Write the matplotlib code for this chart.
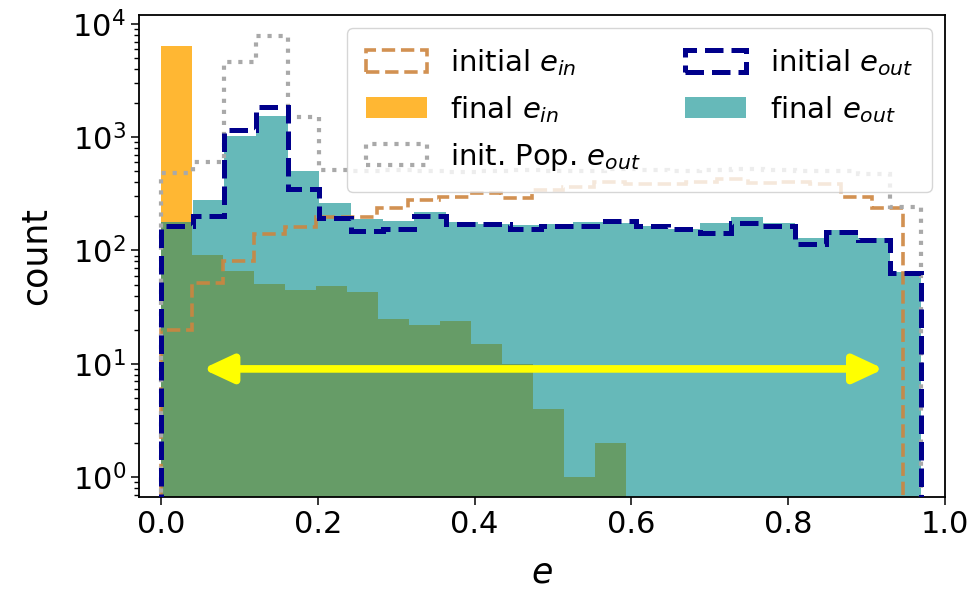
import numpy as np
import matplotlib
matplotlib.use("Agg")
import matplotlib.pyplot as plt
from matplotlib.patches import Patch

# bin ranges (each histogram has its own binning)
edges_24_out = np.linspace(0.0, 0.970, 25)    # e_out histograms
edges_24_in = np.linspace(0.0, 0.946, 25)     # initial e_in
edges_15_in = np.linspace(0.0, 0.593, 16)     # final e_in

initial_ein = [20, 52, 80, 141, 162, 196, 198, 235, 278, 294, 323, 288,
               340, 360, 400, 385, 390, 405, 430, 395, 400, 390, 298, 235]
final_ein = [6400, 91, 66, 51, 45, 49, 43, 25, 22, 24, 15, 10, 4, 1, 2]
init_pop_eout = [482, 599, 4630, 7820, 1514, 512, 505, 510, 500, 495, 505, 510,
                 500, 505, 520, 515, 505, 510, 525, 510, 505, 500, 470, 243]
initial_eout = [165, 203, 1150, 1840, 350, 192, 150, 155, 203, 172, 170, 156,
                164, 164, 183, 164, 156, 143, 175, 164, 113, 146, 123, 63]
final_eout = [180, 280, 1023, 1535, 502, 260, 190, 183, 219, 178, 172, 168,
              170, 179, 174, 166, 156, 175, 198, 174, 128, 151, 128, 65]

arrow_x = [0.053, 0.922]
arrow_y = 9.0

fig = plt.figure(figsize=(9.71, 5.91), dpi=100)
ax = fig.add_axes([0.1432, 0.159, 0.8300, 0.8156])

base = 1e-3
ax.stairs(initial_ein, edges_24_in, baseline=base, color="peru", alpha=0.9,
          lw=2.6, ls="--", zorder=3)
ax.stairs(final_ein, edges_15_in, baseline=base, fill=True, color="orange",
          alpha=0.8, zorder=1)
ax.stairs(init_pop_eout, edges_24_out, baseline=base, color="darkgray",
          lw=3, ls=":", zorder=3)
ax.stairs(initial_eout, edges_24_out, baseline=base, color="darkblue",
          lw=3.6, ls="--", zorder=4)
ax.stairs(final_eout, edges_24_out, baseline=base, fill=True, color="darkcyan",
          alpha=0.6, zorder=2)

# rectangle legend keys like hist(histtype='step')
handles = [
    Patch(facecolor="none", edgecolor="peru", alpha=0.9, lw=2.6, ls="--", label=r"initial $e_{in}$"),
    Patch(facecolor="orange", alpha=0.8, label=r"final $e_{in}$"),
    Patch(facecolor="none", edgecolor="darkgray", lw=3, ls=":", label=r"init. Pop. $e_{out}$"),
    Patch(facecolor="none", edgecolor="darkblue", lw=3.6, ls="--", label=r"initial $e_{out}$"),
    Patch(facecolor="darkcyan", alpha=0.6, label=r"final $e_{out}$"),
]

ax.annotate("", xy=(arrow_x[1], arrow_y), xytext=(arrow_x[0], arrow_y),
            arrowprops=dict(arrowstyle="<|-|>,head_length=0.9,head_width=0.42",
                            color="yellow", lw=5.5, shrinkA=0, shrinkB=0,
                            mutation_scale=20), zorder=5)

ax.set_yscale("log")
ax.set_xlim(-0.028, 1.0)
ax.set_ylim(0.665, 1.2e4)
ax.set_xticks([0.0, 0.2, 0.4, 0.6, 0.8, 1.0])
ax.tick_params(labelsize=22, length=6, width=1.1)
ax.tick_params(which="minor", length=3.5, width=1.0)
for s in ax.spines.values():
    s.set_linewidth(1.3)

ax.set_xlabel(r"$e$", fontsize=25, labelpad=12)
ax.set_ylabel("count", fontsize=25, labelpad=14)
ax.set_title("Eccentricities", fontsize=25, pad=14)

ax.legend(handles=handles, loc="upper right", ncol=2, fontsize=21,
          handlelength=2.1, handleheight=0.75, labelspacing=0.55, columnspacing=1.5,
          handletextpad=0.8, borderaxespad=0.45, borderpad=0.65)

fig.savefig("out.png", dpi=100)
